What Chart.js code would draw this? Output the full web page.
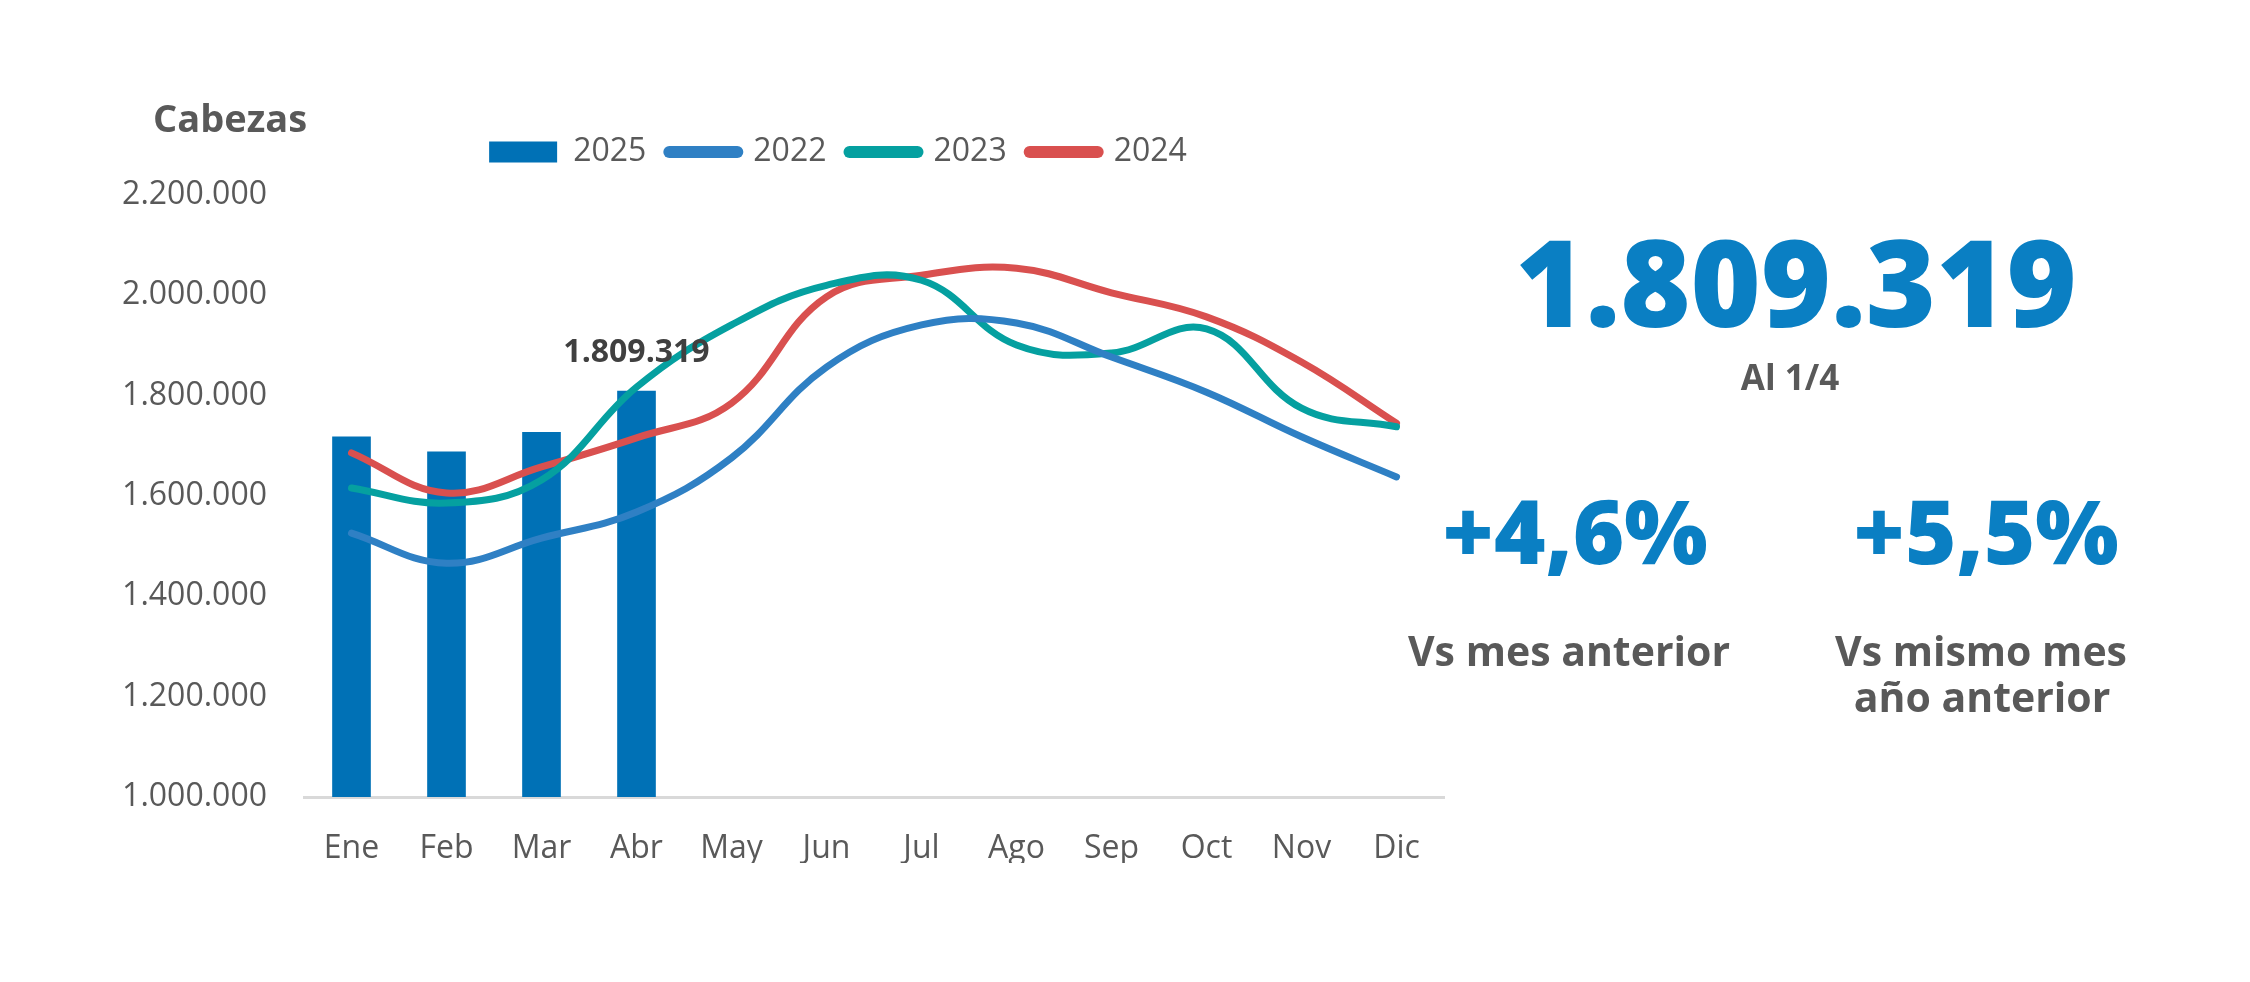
<!DOCTYPE html>
<html>
<head>
<meta charset="utf-8">
<script src="https://cdn.jsdelivr.net/npm/chart.js@4"></script>
<style>
  html, body { margin: 0; padding: 0; background: #fff; }
  #wrap { position: relative; width: 2250px; height: 982px; overflow: hidden; font-family: 'Open Sans', sans-serif; }
  #box { position: absolute; left: 0; top: 0; width: 2250px; height: 982px; }
  .t { position: absolute; white-space: nowrap; transform: translateX(-50%); line-height: 1.362; font-weight: 700; }
  .gray { color: #595959; }
  .blue { color: #0a7fc3; font-weight: 800; }
</style>
</head>
<body>
<div id="wrap">
  <div id="box"><canvas id="chart"></canvas></div>
  <div class="t gray" style="left:230px; top:92px; font-size:38px;">Cabezas</div>
  <div class="t blue" style="left:1796px; top:199px; font-size:120px;">1.809.319</div>
  <div class="t gray" style="left:1790px; top:353px; font-size:35px;">Al 1/4</div>
  <div class="t blue" style="left:1575px; top:471px; font-size:88px;">+4,6%</div>
  <div class="t blue" style="left:1986px; top:471px; font-size:88px;">+5,5%</div>
  <div class="t gray" style="left:1569px; top:623px; font-size:41px;">Vs mes anterior</div>
  <div class="t gray" style="left:1981px; top:623px; font-size:41px;">Vs mismo mes</div>
  <div class="t gray" style="left:1982px; top:669px; font-size:41px;">año anterior</div>
</div>
<script>
// meses
var months = ['Ene', 'Feb', 'Mar', 'Abr', 'May', 'Jun', 'Jul', 'Ago', 'Sep', 'Oct', 'Nov', 'Dic'];

// cabezas por mes
var v2025 = [1718000, 1688000, 1727000, 1809319];
var v2022 = [1526000, 1466000, 1516000, 1568000, 1676000, 1857000, 1941000, 1945000, 1877000, 1807000, 1718000, 1638000];
var v2023 = [1616000, 1586000, 1632000, 1817000, 1941000, 2020000, 2030000, 1901000, 1885000, 1933000, 1775000, 1738000];
var v2024 = [1686000, 1606000, 1658000, 1716000, 1785000, 1997000, 2040000, 2054000, 2005000, 1957000, 1867000, 1745000];

// eje y
var yTicks = [1000000, 1200000, 1400000, 1600000, 1800000, 2000000, 2200000];

function fmt(n) {
  return String(Math.round(n)).replace(/\B(?=(\d{3})+(?!\d))/g, '.');
}

var gray = '#595959';

// etiqueta sobre la ultima barra
var lastLabel = {
  id: 'lastLabel',
  afterDatasetsDraw: function(chart) {
    var meta = chart.getDatasetMeta(0);
    var i = v2025.length - 1;
    var el = meta.data[i];
    if (!el) return;
    var ctx = chart.ctx;
    ctx.save();
    ctx.font = "bold 32px 'Open Sans'";
    ctx.fillStyle = '#404040';
    ctx.textAlign = 'center';
    ctx.textBaseline = 'middle';
    ctx.fillText(fmt(v2025[i]), el.x, el.y - 38);
    ctx.restore();
  }
};

// leyenda: mas aire abajo y corrida a la derecha
var legendFix = {
  id: 'legendFix',
  beforeInit: function(chart) {
    var fit = chart.legend.fit;
    chart.legend.fit = function() {
      fit.bind(chart.legend)();
      this.height += 17;
    };
  },
  afterLayout: function(chart) {
    chart.legend.left += 66;
    chart.legend.right += 66;
  }
};

function draw() {
  var ctx = document.getElementById('chart').getContext('2d');
  Chart.defaults.font.family = "'Open Sans', sans-serif";
  Chart.defaults.color = gray;

  var lineDs = function(label, data, color) {
    return {
      type: 'line',
      label: label,
      data: data,
      borderColor: color,
      backgroundColor: color,
      borderWidth: 7,
      tension: 0.4,
      pointRadius: 0,
      borderCapStyle: 'round',
      order: 0
    };
  };

  new Chart(ctx, {
    type: 'bar',
    data: {
      labels: months,
      datasets: [
        {
          type: 'bar',
          label: '2025',
          data: v2025,
          backgroundColor: '#0071b6',
          barThickness: 38,
          order: 1
        },
        lineDs('2022', v2022, '#2f80c4'),
        lineDs('2023', v2023, '#05a0a0'),
        lineDs('2024', v2024, '#d9504f')
      ]
    },
    options: {
      responsive: true,
      maintainAspectRatio: false,
      animation: false,
      layout: { padding: { left: 100, right: 806, top: 113, bottom: 119 } },
      plugins: {
        tooltip: { enabled: false },
        legend: {
          position: 'top',
          labels: {
            usePointStyle: true,
            pointStyleWidth: 68,
            boxHeight: 21,
            padding: 23,
            color: gray,
            font: { size: 32 },
            generateLabels: function(chart) {
              return chart.data.datasets.map(function(ds, i) {
                var isBar = ds.type === 'bar';
                return {
                  text: ds.label,
                  datasetIndex: i,
                  pointStyle: isBar ? 'rect' : 'line',
                  fillStyle: isBar ? ds.backgroundColor : ds.borderColor,
                  strokeStyle: isBar ? ds.backgroundColor : ds.borderColor,
                  lineWidth: isBar ? 0 : 12,
                  lineCap: 'round',
                  fontColor: gray,
                  hidden: false
                };
              });
            }
          }
        }
      },
      scales: {
        x: {
          grid: { display: false, drawTicks: false },
          border: { display: true, color: '#d9d9d9', width: 3 },
          ticks: { padding: 33, font: { size: 32 }, color: gray },
          afterFit: function(s) { s.height = 66; }
        },
        y: {
          min: yTicks[0],
          max: yTicks[yTicks.length - 1],
          grid: { display: false, drawTicks: false },
          border: { display: false },
          afterBuildTicks: function(s) {
            s.ticks = yTicks.map(function(v) { return { value: v }; });
          },
          ticks: {
            padding: 37,
            font: { size: 32 },
            color: gray,
            callback: function(v) { return fmt(v); }
          },
          afterFit: function(s) { s.width = 204; }
        }
      }
    },
    plugins: [lastLabel, legendFix]
  });
}

if (document.fonts && document.fonts.load) {
  Promise.all([
    document.fonts.load("32px 'Open Sans'"),
    document.fonts.load("bold 32px 'Open Sans'")
  ]).then(draw, draw);
} else {
  draw();
}
</script>
</body>
</html>
